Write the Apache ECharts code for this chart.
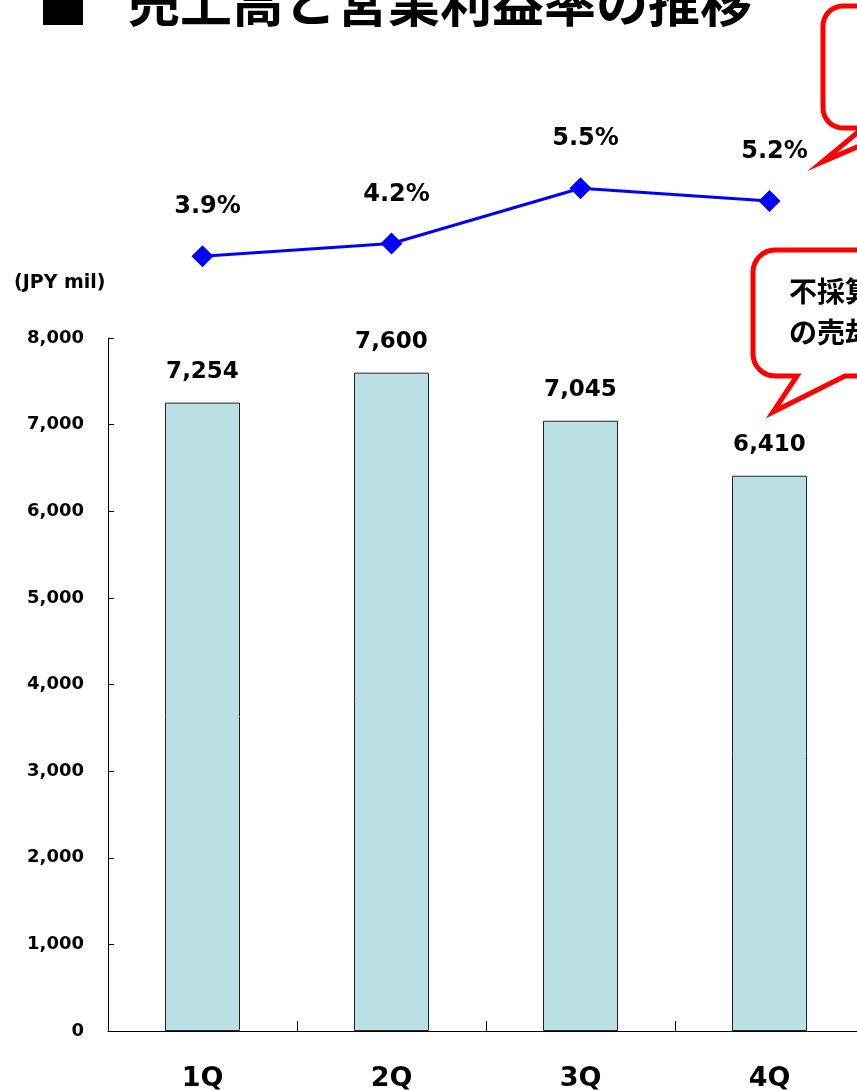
<!DOCTYPE html>
<html>
<head>
<meta charset="utf-8">
<script src="https://cdn.jsdelivr.net/npm/echarts@6/dist/echarts.min.js"></script>
<style>
    html, body { margin: 0; padding: 0; background: #ffffff; }
    #chart { width: 857px; height: 1090px; }
</style>
</head>
<body>
<div id="chart"></div>
<script>
    // 四半期
    var quarters = ['1Q', '2Q', '3Q', '4Q'];
    // 売上高 (JPY mil)
    var sales = [7254, 7600, 7045, 6410];
    // 営業利益率 (%)
    var marginRate = [3.9, 4.2, 5.5, 5.2];
    // 吹き出しの文言
    var calloutLines = ['不採算事業', 'の売却による'];

    var fontNum = '"DejaVu Sans", sans-serif';
    var fontJp = '"Noto Sans CJK JP", sans-serif';

    // 角丸 + しっぽ付きの吹き出し (polygon の点列)
    function calloutPoints(x0, y0, x1, y1, r, baseL, tipX, tipY, baseR) {
        var pts = [];
        var arc = function (cx, cy, a0, a1) {
            for (var i = 0; i <= 8; i++) {
                var a = a0 + (a1 - a0) * i / 8;
                pts.push([cx + r * Math.cos(a), cy + r * Math.sin(a)]);
            }
        };
        arc(x0 + r, y0 + r, Math.PI, Math.PI * 1.5);
        pts.push([x1, y0]);
        pts.push([x1, y1]);
        pts.push([baseR, y1]);
        pts.push([tipX, tipY]);
        pts.push([baseL, y1]);
        arc(x0 + r, y1 - r, Math.PI * 0.5, Math.PI);
        return pts;
    }

    var chart = echarts.init(document.getElementById('chart'), null, { renderer: 'canvas' });

    var option = {
        backgroundColor: '#ffffff',
        animation: false,
        grid: [
            // 棒グラフ
            { left: 108, top: 338, width: 756, bottom: 59, outerBoundsMode: 'none' },
            // 折れ線 (利益率)
            { left: 108, top: 167, width: 756, height: 127.5, outerBoundsMode: 'none' }
        ],
        xAxis: [
            {
                type: 'category',
                gridIndex: 0,
                data: quarters,
                boundaryGap: true,
                axisLine: { lineStyle: { color: '#000000', width: 1 } },
                axisTick: { show: true, inside: true, length: 10, lineStyle: { color: '#000000' } },
                axisLabel: {
                    margin: 34,
                    color: '#000000',
                    fontFamily: fontNum,
                    fontWeight: 'bold',
                    fontSize: 27
                },
                splitLine: { show: false }
            },
            {
                type: 'category',
                gridIndex: 1,
                data: quarters,
                boundaryGap: true,
                show: false
            }
        ],
        yAxis: [
            {
                type: 'value',
                gridIndex: 0,
                min: 0,
                max: 8000,
                interval: 1000,
                axisLine: { show: true, lineStyle: { color: '#000000', width: 1 } },
                axisTick: { show: true, inside: true, length: 6, lineStyle: { color: '#000000' } },
                axisLabel: {
                    margin: 24,
                    color: '#000000',
                    fontFamily: fontNum,
                    fontWeight: 'bold',
                    fontSize: 18,
                    formatter: function (v) {
                        return v.toLocaleString('en-US');
                    }
                },
                splitLine: { show: false }
            },
            {
                type: 'value',
                gridIndex: 1,
                min: 3,
                max: 6,
                show: false
            }
        ],
        series: [
            {
                name: '売上高',
                type: 'bar',
                xAxisIndex: 0,
                yAxisIndex: 0,
                data: sales,
                barWidth: 75,
                itemStyle: {
                    color: '#BBE0E3',
                    borderColor: '#222222',
                    borderWidth: 1
                },
                label: {
                    show: true,
                    position: 'top',
                    distance: 19,
                    color: '#000000',
                    fontFamily: fontNum,
                    fontWeight: 'bold',
                    fontSize: 23,
                    formatter: function (p) {
                        return p.value.toLocaleString('en-US');
                    }
                }
            },
            {
                name: '営業利益率',
                type: 'line',
                xAxisIndex: 1,
                yAxisIndex: 1,
                data: marginRate,
                symbol: 'diamond',
                symbolSize: 22,
                lineStyle: { color: '#0000FF', width: 3 },
                itemStyle: { color: '#0000FF' },
                label: {
                    show: true,
                    position: 'top',
                    distance: 26,
                    offset: [5, 0],
                    color: '#000000',
                    fontFamily: fontNum,
                    fontWeight: 'bold',
                    fontSize: 24,
                    formatter: function (p) {
                        return p.value.toFixed(1) + '%';
                    }
                }
            }
        ],
        graphic: [
            // タイトル
            {
                type: 'text',
                x: 38,
                y: 5,
                style: {
                    text: '■',
                    fill: '#000000',
                    font: 'bold 50px ' + fontJp,
                    verticalAlign: 'middle'
                }
            },
            {
                type: 'text',
                x: 128,
                y: 2,
                style: {
                    text: '売上高と営業利益率の推移',
                    fill: '#000000',
                    font: 'bold 52px ' + fontJp,
                    verticalAlign: 'middle'
                }
            },
            // 単位
            {
                type: 'text',
                x: 14,
                y: 283,
                style: {
                    text: '(JPY mil)',
                    fill: '#000000',
                    font: 'bold 19px ' + fontNum,
                    verticalAlign: 'middle'
                }
            },
            // 吹き出し (上)
            {
                type: 'polygon',
                shape: { points: calloutPoints(823, 6, 1000, 128, 20, 863, 822, 162, 901) },
                style: { fill: '#ffffff', stroke: '#FF0000', lineWidth: 5, lineJoin: 'miter' }
            },
            // 吹き出し (下)
            {
                type: 'polygon',
                shape: { points: calloutPoints(753, 250, 1000, 376, 22, 797, 773, 412, 845) },
                style: { fill: '#ffffff', stroke: '#FF0000', lineWidth: 5, lineJoin: 'miter' }
            },
            {
                type: 'text',
                x: 789,
                y: 271,
                style: {
                    text: calloutLines.join('\n'),
                    fill: '#000000',
                    font: 'bold 28px ' + fontJp,
                    lineHeight: 41,
                    verticalAlign: 'top'
                }
            }
        ]
    };

    chart.setOption(option);
</script>
</body>
</html>
